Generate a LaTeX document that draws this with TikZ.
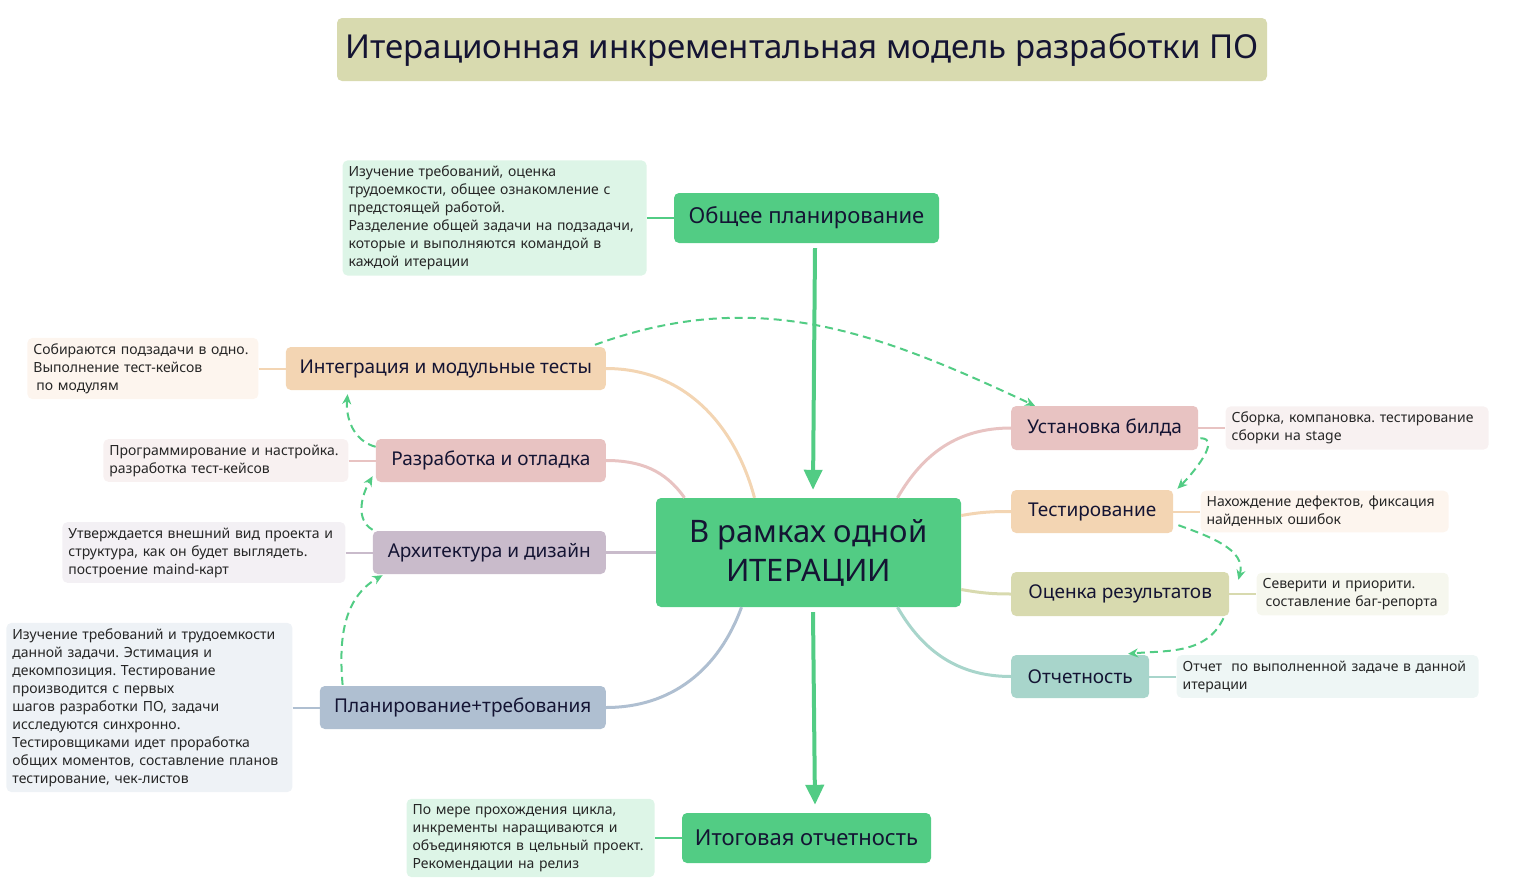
\documentclass[tikz,border=0pt]{standalone}
\usepackage{fontspec}
\setmainfont{Noto Sans}
\usetikzlibrary{arrows.meta,positioning}
\frenchspacing
\definecolor{mmgreen}{HTML}{52CC84}
\definecolor{mmgreenl}{HTML}{DDF5E7}
\definecolor{mmpeach}{HTML}{F3D5B3}
\definecolor{mmpeachl}{HTML}{FDF5EE}
\definecolor{mmrose}{HTML}{E8C3C2}
\definecolor{mmrosel}{HTML}{F8F1F1}
\definecolor{mmmauve}{HTML}{C9BBCB}
\definecolor{mmmauvel}{HTML}{F3F0F4}
\definecolor{mmsteel}{HTML}{AFBFD1}
\definecolor{mmsteell}{HTML}{EEF2F6}
\definecolor{mmolive}{HTML}{D8DAAF}
\definecolor{mmolivel}{HTML}{F6F7EE}
\definecolor{mmteal}{HTML}{A8D5CB}
\definecolor{mmteall}{HTML}{EEF6F5}
\definecolor{mmink}{HTML}{141433}
\definecolor{mmnote}{HTML}{262626}
\begin{document}
\begin{tikzpicture}[x=1pt,y=1pt,
  topic/.style={rounded corners=5pt, minimum height=43pt, inner xsep=0pt,
               font=\fontsize{19}{23}\selectfont, text=mmink},
  core/.style={topic, fill=mmgreen, minimum height=50pt, font=\fontsize{22}{26}\selectfont},
  banner/.style={rounded corners=5pt, fill=mmolive, minimum width=930pt, minimum height=63pt,
               font=\fontsize{33}{39}\selectfont, text=mmink},
  note/.style={rounded corners=5pt, align=left, inner xsep=6pt, inner ysep=5.5pt,
               font=\fontsize{14}{18}\selectfont, text=mmnote},
  link/.style={line width=3pt},
  tie/.style={line width=2pt},
  flow/.style={-{Triangle[width=18pt,length=20pt]}, line width=4pt, mmgreen},
  hop/.style={-{Stealth[length=10pt,width=9pt]}, line width=2pt, mmgreen, dash pattern=on 8pt off 5pt},
  node distance=27pt
]
\useasboundingbox (0,0) rectangle (1516,-894);
\node[banner] (title) at (802,-49.5) {Итерационная инкрементальная модель разработки ПО};

\node[core, minimum width=265pt] (general) at (806.5,-218) {Общее планирование};
\node[core, minimum width=305pt, minimum height=109pt, align=center,
      font=\fontsize{31}{39}\selectfont] (iter) at (808.5,-552.5) {В рамках одной\\ИТЕРАЦИИ};
\node[core, minimum width=249pt] (final) at (806.5,-838) {Итоговая отчетность};

\node[topic, fill=mmpeach, minimum width=320pt, anchor=east] (integ) at (606,-368.5) {Интеграция и модульные тесты};
\node[topic, fill=mmrose, minimum width=230pt, anchor=east] (devel) at (606,-460.5) {Разработка и отладка};
\node[topic, fill=mmmauve, minimum width=233pt, anchor=east] (arch) at (606,-552.5) {Архитектура и дизайн};
\node[topic, fill=mmsteel, minimum width=286pt, anchor=east] (reqs) at (606,-707.5) {Планирование+требования};

\node[topic, fill=mmrose, minimum width=187pt, minimum height=44pt, anchor=west] (build) at (1011,-428) {Установка билда};
\node[topic, fill=mmpeach, minimum width=162pt, anchor=west] (testing) at (1011,-511.5) {Тестирование};
\node[topic, fill=mmolive, minimum width=218pt, minimum height=44pt, anchor=west] (review) at (1011,-594) {Оценка результатов};
\node[topic, fill=mmteal, minimum width=138pt, anchor=west] (report) at (1011,-676.5) {Отчетность};

\node[note, fill=mmgreenl, text width=292pt, left=of general] (generaln) {Изучение требований, оценка\\трудоемкости, общее ознакомление с\\предстоящей работой.\\Разделение общей задачи на подзадачи,\\которые и выполняются командой в\\каждой итерации};
\node[note, fill=mmgreenl, text width=236pt, left=of final] (finaln) {По мере прохождения цикла,\\инкременты наращиваются и\\объединяются в цельный проект.\\Рекомендации на релиз};
\node[note, fill=mmpeachl, text width=219pt, left=of integ] (integn) {Собираются подзадачи в одно.\\Выполнение тест-кейсов\\\hspace*{3pt}по модулям};
\node[note, fill=mmrosel, text width=233pt, left=of devel] (develn) {Программирование и настройка.\\разработка тест-кейсов};
\node[note, fill=mmmauvel, text width=271pt, left=of arch] (archn) {Утверждается внешний вид проекта и\\структура, как он будет выглядеть.\\построение maind-карт};
\node[note, fill=mmsteell, text width=274pt, left=of reqs] (reqsn) {Изучение требований и трудоемкости\\данной задачи. Эстимация и\\декомпозиция. Тестирование\\производится с первых\\шагов разработки ПО, задачи\\исследуются синхронно.\\Тестировщиками идет проработка\\общих моментов, составление планов\\тестирование, чек-листов};
\node[note, fill=mmrosel, text width=251pt, right=of build] (buildn) {Сборка, компановка. тестирование\\сборки на stage};
\node[note, fill=mmpeachl, text width=236pt, right=of testing] (testingn) {Нахождение дефектов, фиксация\\найденных ошибок};
\node[note, fill=mmolivel, text width=180pt, right=of review] (reviewn) {Северити и приорити.\\\hspace*{3pt}составление баг-репорта};
\node[note, fill=mmteall, text width=290pt, right=of report] (reportn) {Отчет\ \ по выполненной задаче в данной\\итерации};

\draw[tie, mmgreen] (generaln) -- (general); \draw[tie, mmgreen] (finaln) -- (final);
\draw[tie, mmpeach] (integn) -- (integ); \draw[tie, mmrose] (develn) -- (devel);
\draw[tie, mmmauve] (archn) -- (arch); \draw[tie, mmsteel] (reqsn) -- (reqs);
\draw[tie, mmrose] (build) -- (buildn); \draw[tie, mmpeach] (testing) -- (testingn);
\draw[tie, mmolive] (review) -- (reviewn); \draw[tie, mmteal] (report) -- (reportn);

\draw[link, mmpeach] ([xshift=-54pt]iter.north) to[out=105,in=0] (integ.east);
\draw[link, mmrose] ([xshift=-124pt]iter.north) to[out=125,in=0] (devel.east);
\draw[link, mmmauve] (arch.east) -- (arch.east -| iter.west);
\draw[link, mmsteel] ([xshift=-67pt]iter.south) to[out=-110,in=0] (reqs.east);
\draw[link, mmrose] ([xshift=89pt]iter.north) to[out=60,in=180] (build.west);
\draw[link, mmpeach] ([yshift=37pt]iter.east) to[out=10,in=180] (testing.west);
\draw[link, mmolive] ([yshift=-37pt]iter.east) to[out=-10,in=180] (review.west);
\draw[link, mmteal] ([xshift=89pt]iter.south) to[out=-60,in=180] (report.west);

\draw[flow] ([xshift=8.5pt,yshift=-5pt]general.south) -- ([xshift=4.5pt,yshift=8pt]iter.north);
\draw[flow] ([xshift=4.5pt,yshift=-5pt]iter.south) -- ([xshift=8.5pt,yshift=8pt]final.north);

\draw[hop] ([xshift=23pt,yshift=1pt]reqs.north west) to[out=95,in=-150] ([xshift=10pt,yshift=-1pt]arch.south west);
\draw[hop] ([yshift=1pt]arch.north west) to[out=150,in=-120] ([xshift=-3pt,yshift=6pt]devel.south west);
\draw[hop] ([yshift=-8pt]devel.north west) to[out=165,in=-95] ([xshift=62pt,yshift=-4pt]integ.south west);
\draw[hop] ([xshift=-11pt,yshift=2pt]integ.north east) to[out=20,in=155] ([xshift=24pt]build.north west);
\draw[hop] ([xshift=2pt,yshift=12pt]build.south east) to[out=0,in=45] ([xshift=4pt,yshift=1pt]testing.north east);
\draw[hop] ([xshift=5pt,yshift=8pt]testing.south east) to[out=-20,in=75] ([xshift=9pt,yshift=-8pt]review.north east);
\draw[hop] ([xshift=-6pt,yshift=-2pt]review.south east) to[out=-115,in=5] ([xshift=117pt,yshift=1pt]report.north west);
\end{tikzpicture}
\end{document}
